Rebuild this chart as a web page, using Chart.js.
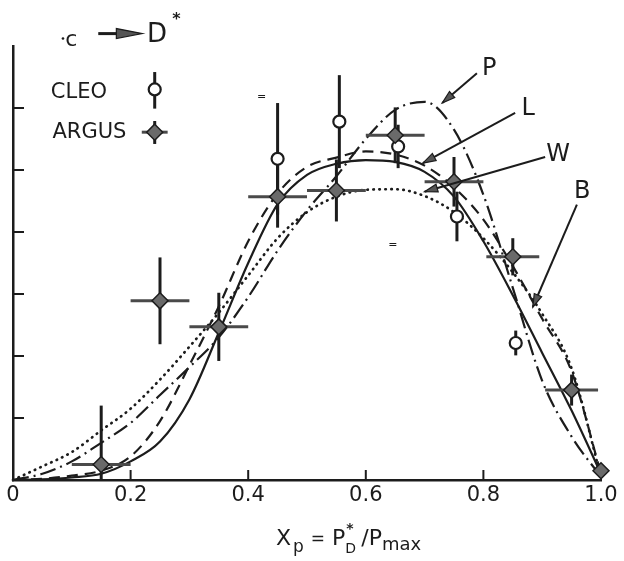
<!DOCTYPE html>
<html>
<head>
<meta charset="utf-8">
<style>
  html, body { margin: 0; padding: 0; background: #fff; }
  #wrap { width: 624px; height: 561px; }
</style>
<script src="https://cdn.jsdelivr.net/npm/chart.js@4.4.0/dist/chart.umd.min.js"></script>
</head>
<body>
<div id="wrap"><canvas id="chart" width="624" height="561"></canvas></div>
<script>
// model curves, sampled every 0.05 in x_p
const curveX = [0, 0.05, 0.1, 0.15, 0.2, 0.25, 0.3, 0.35, 0.4, 0.45, 0.5, 0.55, 0.6, 0.65, 0.7, 0.75, 0.8, 0.85, 0.9, 0.95, 1.0];
const curveP = [0, 0.1, 0.3, 0.6, 0.92, 1.37, 1.82, 2.3, 2.95, 3.7, 4.35, 4.9, 5.5, 5.97, 6.1, 5.65, 4.6, 3.1, 1.6, 0.7, 0.05];
const curveL = [0, 0.02, 0.07, 0.15, 0.38, 0.95, 1.85, 2.8, 3.85, 4.62, 5.05, 5.2, 5.3, 5.25, 5.07, 4.72, 4.2, 3.45, 2.6, 1.75, 0.1];
const curveW = [0, 0.01, 0.04, 0.1, 0.3, 0.62, 1.3, 2.38, 3.5, 4.45, 4.92, 5.1, 5.16, 5.13, 4.97, 4.57, 3.85, 2.98, 2.05, 1.12, 0.1];
const curveB = [0, 0.22, 0.45, 0.8, 1.15, 1.62, 2.15, 2.7, 3.3, 3.9, 4.32, 4.57, 4.68, 4.69, 4.58, 4.32, 3.9, 3.35, 2.68, 1.8, 0.05];

// ARGUS points: value, vertical error, half bin width
const argusX = [0.15, 0.25, 0.35, 0.45, 0.55, 0.65, 0.75, 0.85, 0.95, 1.0];
const argusY = [0.25, 2.89, 2.47, 4.57, 4.67, 5.56, 4.81, 3.6, 1.45, 0.15];
const argusErr = [0.95, 0.7, 0.55, 0.5, 0.5, 0.45, 0.4, 0.3, 0.25, 0];
const argusBin = [0.05, 0.05, 0.05, 0.05, 0.05, 0.05, 0.05, 0.045, 0.045, 0];

// CLEO points
const cleoX = [0.45, 0.555, 0.655, 0.755, 0.855];
const cleoY = [5.18, 5.78, 5.38, 4.25, 2.21];
const cleoErr = [0.9, 0.75, 0.35, 0.4, 0.2];

const xTicks = [0, 0.2, 0.4, 0.6, 0.8, 1.0];
const yTicks = [1, 2, 3, 4, 5, 6];

const INK = '#1c1c1c';
const FONT = '"DejaVu Sans", sans-serif';

function pts(xs, ys) {
    return xs.map((v, i) => ({ x: v, y: ys[i] }));
}

function curve(label, data, dash, dotted) {
    return {
        label: label,
        data: pts(curveX, data),
        showLine: true,
        borderColor: INK,
        borderWidth: dotted ? 2.7 : 2.2,
        borderDash: dash,
        borderCapStyle: dotted ? 'round' : 'butt',
        pointRadius: 0,
        cubicInterpolationMode: 'monotone',
        clip: false
    };
}

function arrowHead(ctx, x0, y0, x1, y1, len, half) {
    const a = Math.atan2(y1 - y0, x1 - x0);
    ctx.beginPath();
    ctx.moveTo(x1, y1);
    ctx.lineTo(x1 - len * Math.cos(a) + half * Math.sin(a), y1 - len * Math.sin(a) - half * Math.cos(a));
    ctx.lineTo(x1 - len * Math.cos(a) - half * Math.sin(a), y1 - len * Math.sin(a) + half * Math.cos(a));
    ctx.closePath();
    ctx.fillStyle = '#555';
    ctx.fill();
    ctx.strokeStyle = INK;
    ctx.lineWidth = 1.2;
    ctx.stroke();
}

// error bars go under the markers, so draw them just before the CLEO set
const errorBars = {
    id: 'errorBars',
    beforeDatasetDraw(chart, args) {
        if (args.index !== 1) return;
        const { ctx, scales: { x, y } } = chart;
        ctx.save();
        ctx.lineCap = 'butt';
        argusX.forEach((v, i) => {
            const px = x.getPixelForValue(v);
            const py = y.getPixelForValue(argusY[i]);
            if (argusBin[i]) {
                ctx.strokeStyle = '#4a4a4a';
                ctx.lineWidth = 3;
                ctx.beginPath();
                ctx.moveTo(x.getPixelForValue(v - argusBin[i]), py);
                ctx.lineTo(x.getPixelForValue(v + argusBin[i]), py);
                ctx.stroke();
            }
            if (argusErr[i]) {
                ctx.strokeStyle = INK;
                ctx.lineWidth = 3;
                ctx.beginPath();
                ctx.moveTo(px, y.getPixelForValue(Math.max(0, argusY[i] - argusErr[i])));
                ctx.lineTo(px, y.getPixelForValue(argusY[i] + argusErr[i]));
                ctx.stroke();
            }
        });
        cleoX.forEach((v, i) => {
            const px = x.getPixelForValue(v);
            ctx.strokeStyle = INK;
            ctx.lineWidth = 3;
            ctx.beginPath();
            ctx.moveTo(px, y.getPixelForValue(cleoY[i] - cleoErr[i]));
            ctx.lineTo(px, y.getPixelForValue(cleoY[i] + cleoErr[i]));
            ctx.stroke();
        });
        ctx.restore();
    }
};

// inward tick marks, labels, pointers and the axis title
const decorations = {
    id: 'decorations',
    afterDraw(chart) {
        const { ctx, chartArea: area, scales: { x, y } } = chart;
        const X = v => x.getPixelForValue(v);
        const Y = v => y.getPixelForValue(v);
        ctx.save();
        ctx.strokeStyle = INK;
        ctx.lineWidth = 2;
        xTicks.slice(1, -1).forEach(v => {
            ctx.beginPath();
            ctx.moveTo(X(v), area.bottom);
            ctx.lineTo(X(v), area.bottom - 10);
            ctx.stroke();
        });
        yTicks.forEach(v => {
            ctx.beginPath();
            ctx.moveTo(area.left, Y(v));
            ctx.lineTo(area.left + 11, Y(v));
            ctx.stroke();
        });

        ctx.fillStyle = INK;
        ctx.textAlign = 'center';
        ctx.textBaseline = 'middle';

        // c -> D*
        ctx.font = '22px ' + FONT;
        ctx.fillText('c', X(0.099), Y(7.1));
        ctx.beginPath();
        ctx.arc(X(0.085), Y(7.12), 1.3, 0, Math.PI * 2);
        ctx.fill();
        ctx.lineWidth = 3;
        ctx.beginPath();
        ctx.moveTo(X(0.145), Y(7.2));
        ctx.lineTo(X(0.19), Y(7.2));
        ctx.stroke();
        arrowHead(ctx, X(0.15), Y(7.2), X(0.22), Y(7.2), 26, 5);
        ctx.fillStyle = INK;
        ctx.font = '26px ' + FONT;
        ctx.fillText('D', X(0.245), Y(7.18));
        ctx.font = 'bold 16px ' + FONT;
        ctx.fillText('*', X(0.278), Y(7.42));

        // legend
        ctx.font = '21px ' + FONT;
        ctx.fillText('CLEO', X(0.112), Y(6.25));
        ctx.fillText('ARGUS', X(0.13), Y(5.6));
        ctx.lineWidth = 3;
        ctx.beginPath();
        ctx.moveTo(X(0.241), Y(6.58));
        ctx.lineTo(X(0.241), Y(5.99));
        ctx.stroke();
        ctx.beginPath();
        ctx.arc(X(0.241), Y(6.3), 6, 0, Math.PI * 2);
        ctx.fillStyle = '#fff';
        ctx.fill();
        ctx.lineWidth = 2.2;
        ctx.stroke();
        ctx.strokeStyle = '#4a4a4a';
        ctx.lineWidth = 3;
        ctx.beginPath();
        ctx.moveTo(X(0.219), Y(5.61));
        ctx.lineTo(X(0.263), Y(5.61));
        ctx.stroke();
        ctx.strokeStyle = INK;
        ctx.beginPath();
        ctx.moveTo(X(0.241), Y(5.79));
        ctx.lineTo(X(0.241), Y(5.42));
        ctx.stroke();
        ctx.beginPath();
        const dx = X(0.241), dy = Y(5.61);
        ctx.moveTo(dx, dy - 8);
        ctx.lineTo(dx + 8, dy);
        ctx.lineTo(dx, dy + 8);
        ctx.lineTo(dx - 8, dy);
        ctx.closePath();
        ctx.fillStyle = '#6a6a6a';
        ctx.fill();
        ctx.lineWidth = 1.5;
        ctx.stroke();

        // curve pointers
        const pointers = [
            ['P', 0.81, 6.63, 0.789, 6.56, 0.73, 6.08],
            ['L', 0.876, 5.98, 0.854, 5.92, 0.697, 5.11],
            ['W', 0.927, 5.24, 0.905, 5.21, 0.70, 4.65],
            ['B', 0.968, 4.65, 0.959, 4.44, 0.884, 2.79]
        ];
        pointers.forEach(p => {
            ctx.strokeStyle = INK;
            ctx.lineWidth = 2;
            ctx.beginPath();
            ctx.moveTo(X(p[3]), Y(p[4]));
            ctx.lineTo(X(p[5]), Y(p[6]));
            ctx.stroke();
            arrowHead(ctx, X(p[3]), Y(p[4]), X(p[5]), Y(p[6]), 13, 4);
            ctx.fillStyle = INK;
            ctx.font = '24px ' + FONT;
            ctx.fillText(p[0], X(p[1]), Y(p[2]));
        });

        // scan specks
        ctx.font = '11px ' + FONT;
        ctx.fillText('=', X(0.423), Y(6.18));
        ctx.fillText('=', X(0.646), Y(3.79));

        // axis title: X_p = P_D^* / P_max
        ctx.textAlign = 'left';
        ctx.textBaseline = 'alphabetic';
        let cx = 276;
        const base = 545;
        const put = (t, size, dy) => {
            ctx.font = size + 'px ' + FONT;
            ctx.fillText(t, cx, base + dy);
            cx += ctx.measureText(t).width;
        };
        put('X', 22, 0);
        cx += 2;
        put('p', 17, 7);
        cx += 7;
        put('=', 17, -1);
        cx += 7;
        put('P', 22, 0);
        const sx = cx;
        put('D', 14, 8);
        ctx.font = 'bold 14px ' + FONT;
        ctx.fillText('*', sx + 1, base - 12);
        cx = sx + 16;
        put('/P', 22, 0);
        put('max', 18, 5);
        ctx.restore();
    }
};

new Chart(document.getElementById('chart'), {
    type: 'scatter',
    data: {
        datasets: [
            {
                label: 'ARGUS',
                data: pts(argusX, argusY),
                pointStyle: 'rectRot',
                pointRadius: 8,
                backgroundColor: '#6a6a6a',
                borderColor: INK,
                borderWidth: 1.5,
                clip: false
            },
            {
                label: 'CLEO',
                data: pts(cleoX, cleoY),
                pointStyle: 'circle',
                pointRadius: 6,
                backgroundColor: '#fff',
                borderColor: INK,
                borderWidth: 2.2,
                clip: false
            },
            curve('P', curveP, [16, 5, 2, 5], false),
            curve('L', curveL, [11, 7], false),
            curve('W', curveW, [], false),
            curve('B', curveB, [0.5, 5.5], true)
        ]
    },
    options: {
        responsive: false,
        animation: false,
        layout: { padding: { left: 13, right: 23, top: 46, bottom: 0 } },
        plugins: {
            legend: { display: false },
            tooltip: { enabled: false }
        },
        scales: {
            x: {
                type: 'linear',
                min: 0,
                max: 1,
                grid: { display: false, drawTicks: false },
                border: { display: true, color: INK, width: 2.5 },
                afterBuildTicks: s => { s.ticks = xTicks.map(v => ({ value: v })); },
                afterFit: s => { s.height = 81; },
                ticks: {
                    color: INK,
                    font: { family: 'DejaVu Sans', size: 21 },
                    padding: 3,
                    maxRotation: 0,
                    autoSkip: false,
                    callback: v => v === 0 ? '0' : v.toFixed(1)
                }
            },
            y: {
                type: 'linear',
                min: 0,
                max: 7,
                grid: { display: false, drawTicks: false },
                border: { display: true, color: INK, width: 2.5 },
                afterFit: s => { s.width = 0; },
                ticks: { display: false }
            }
        }
    },
    plugins: [errorBars, decorations]
});
</script>
</body>
</html>
